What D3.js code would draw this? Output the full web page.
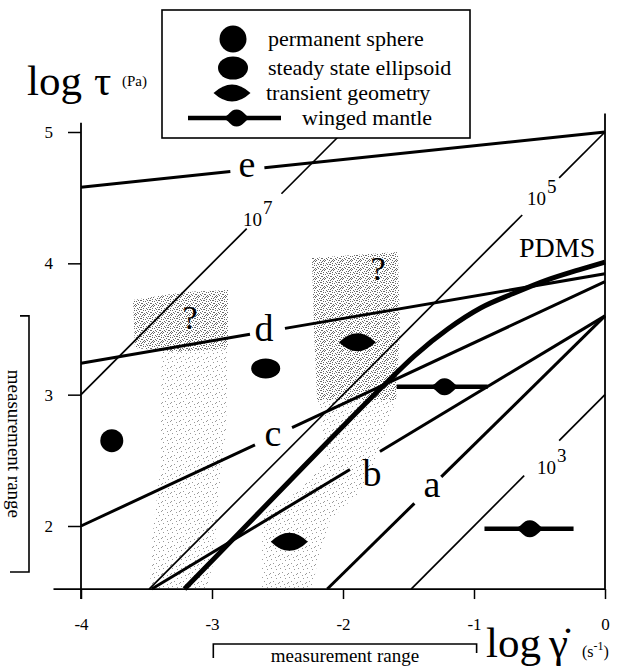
<!DOCTYPE html>
<html>
<head>
<meta charset="utf-8">
<script src="https://cdn.jsdelivr.net/npm/d3@7"></script>
<style>
  body { margin: 0; background: #fff; }
  svg { display: block; }
  svg text { font-family: "Liberation Serif", "Times New Roman", serif; }
</style>
</head>
<body>
<svg id="chart" width="619" height="670"></svg>
<script>
// axis ticks (log shear rate, log stress)
const xTicks = [-4, -3, -2, -1, 0];
const yTicks = [2, 3, 4, 5];
const yMin = 1.52;

// constant viscosity lines: log tau = log gamma + exponent
const viscosityExp = [7, 5, 3];
const viscosityGaps = [[-2.735, -2.47], [-0.632, -0.35], [-0.617, -0.35]];
const viscosityLabelAt = [[-2.687, 4.338], [-0.519, 4.497], [-0.443, 2.449]];

// lines a..e
const lineNames = ["a", "b", "c", "d", "e"];
const lineStart = [[-2.12, 1.52], [-3.46, 1.52], [-4, 2.0], [-4, 3.24], [-4, 4.58]];
const lineEnd = [[0, 3.6], [0, 3.6], [0, 3.86], [0, 3.92], [0, 5.0]];
const lineGaps = [[-1.455, -1.25], [-1.947, -1.718], [-2.672, -2.389], [-2.71, -2.443], [-2.86, -2.6]];
const lineLabelAt = [[-1.321, 2.29], [-1.779, 2.403], [-2.534, 2.678], [-2.603, 3.508], [-2.733, 4.726]];

// PDMS flow curve
const pdms = [[-3.21, 1.52], [-2.8, 1.94], [-2.4, 2.35], [-2.0, 2.76], [-1.7, 3.06], [-1.45, 3.3],
  [-1.2, 3.5], [-0.95, 3.66], [-0.7, 3.77], [-0.45, 3.87], [-0.2, 3.95], [0, 4.01]];

// observed drop shapes
const spheres = [[-3.765, 2.65]];
const ellipsoids = [[-2.59, 3.2]];
const transients = [[-1.89, 3.40], [-2.41, 1.88]];
const wingedCenter = [[-1.23, 3.06], [-0.579, 1.98]];
const wingedSpan = [[-1.59, -0.896], [-0.92, -0.24]];

// uncertain (shaded) zones and their "?" marks
const zoneDense = [
  [[-3.603, 3.721], [-3.206, 3.782], [-2.878, 3.797], [-2.878, 3.355], [-3.282, 3.325], [-3.588, 3.355]],
  [[-2.237, 4.041], [-1.58, 4.086], [-1.565, 3.492], [-1.595, 2.959], [-2.198, 2.959], [-2.221, 3.492]]
];
const zoneSparse = [
  [[-3.382, 3.355], [-2.878, 3.355], [-2.893, 2.731], [-2.954, 2.198], [-2.985, 1.741], [-3.038, 1.528],
   [-3.473, 1.528], [-3.458, 1.893], [-3.397, 2.426]],
  [[-2.198, 2.959], [-1.595, 2.959], [-1.718, 2.579], [-1.855, 2.274], [-2.099, 2.046], [-2.191, 1.741],
   [-2.237, 1.528], [-2.618, 1.528], [-2.618, 2.084], [-2.328, 2.274], [-2.122, 2.503]]
];
const questionAt = [[-3.168, 3.589], [-1.733, 3.964]];

const legendItems = ["permanent sphere", "steady state ellipsoid", "transient geometry", "winged mantle"];

const svg = d3.select("#chart");
const x = d3.scaleLinear().domain([-4, 0]).range([81, 605]);
const y = d3.scaleLinear().domain([2, 5]).range([526, 132]);
const line = d3.line().x(d => x(d[0])).y(d => y(d[1]));

function splitAtGap(p0, p1, gap) {
  const at = gx => [gx, p0[1] + (p1[1] - p0[1]) * (gx - p0[0]) / (p1[0] - p0[0])];
  return [[p0, at(gap[0])], [at(gap[1]), p1]];
}

function lensPath(w, h) {
  return `M${-w / 2},0 Q0,${-h} ${w / 2},0 Q0,${h} ${-w / 2},0Z`;
}
function bodyPath(w, h) {
  const a = w / 2, b = h / 2;
  return `M${-a},0 C${-a * 0.45},${-b * 0.25} ${-a * 0.45},${-b} ${a * 0.05},${-b}` +
    ` C${a * 0.5},${-b} ${a * 0.6},${-b * 0.35} ${a},0` +
    ` C${a * 0.6},${b * 0.35} ${a * 0.5},${b} ${a * 0.05},${b}` +
    ` C${-a * 0.45},${b} ${-a * 0.45},${b * 0.25} ${-a},0Z`;
}

// stipple patterns (hand placed dots so it looks less regular)
const defs = svg.append("defs");
const denseDots = [[0,0],[4,1],[7,0],[2,2],[6,3],[1,4],[8,4],[4,5],[3,7],[7,6],[0,7],[5,8],[2,6],[8,8],[6,1],[3,3],[5,3],[1,8],[8,2],[6,6]];
const sparseDots = [[1,1],[6,2],[3,5],[8,7],[0,6],[5,8]];
[["dense", denseDots, "#6a6a6a"], ["sparse", sparseDots, "#9a9a9a"]].forEach(([id, dots, col]) => {
  const p = defs.append("pattern").attr("id", id)
    .attr("width", 9).attr("height", 9).attr("patternUnits", "userSpaceOnUse");
  dots.forEach(d => p.append("rect").attr("x", d[0]).attr("y", d[1])
    .attr("width", 1).attr("height", 1).attr("fill", col));
});

const polyLine = d3.line().x(d => x(d[0])).y(d => y(d[1])).curve(d3.curveLinearClosed);
svg.append("g").selectAll("path").data(zoneSparse).enter().append("path")
  .attr("d", polyLine).attr("fill", "url(#sparse)");
svg.append("g").selectAll("path").data(zoneDense).enter().append("path")
  .attr("d", polyLine).attr("fill", "url(#dense)");

// viscosity lines
const gVisc = svg.append("g").attr("fill", "none").attr("stroke", "#000").attr("stroke-width", 1.7);
viscosityExp.forEach((e, i) => {
  const p0 = [Math.max(-4, yMin - e), Math.max(-4, yMin - e) + e];
  const p1 = [Math.min(0, 5 - e), Math.min(0, 5 - e) + e];
  splitAtGap(p0, p1, viscosityGaps[i]).forEach(seg => gVisc.append("path").attr("d", line(seg)));
  const lab = svg.append("text")
    .attr("x", x(viscosityLabelAt[i][0]) - 10)
    .attr("y", y(viscosityLabelAt[i][1]) + 7)
    .attr("font-size", 19);
  lab.append("tspan").text("10");
  lab.append("tspan").attr("dx", 1).attr("dy", -12).text(e);
});

// lines a..e
const gLines = svg.append("g").attr("fill", "none").attr("stroke", "#000").attr("stroke-width", 3);
lineNames.forEach((name, i) => {
  splitAtGap(lineStart[i], lineEnd[i], lineGaps[i]).forEach(seg => gLines.append("path").attr("d", line(seg)));
  svg.append("text")
    .attr("x", x(lineLabelAt[i][0]))
    .attr("y", y(lineLabelAt[i][1]))
    .attr("dy", /[bd]/.test(name) ? "0.34em" : "0.23em")
    .attr("text-anchor", "middle")
    .attr("font-size", 38)
    .text(name);
});

// PDMS curve
svg.append("path")
  .attr("d", d3.line().x(d => x(d[0])).y(d => y(d[1])).curve(d3.curveMonotoneX)(pdms))
  .attr("fill", "none").attr("stroke", "#000").attr("stroke-width", 5);
svg.append("text").attr("x", 519).attr("y", 257).attr("font-size", 28).text("PDMS");

// markers
svg.selectAll(".sphere").data(spheres).enter().append("circle")
  .attr("cx", d => x(d[0])).attr("cy", d => y(d[1])).attr("r", 11.5);
svg.selectAll(".ellipsoid").data(ellipsoids).enter().append("ellipse")
  .attr("cx", d => x(d[0])).attr("cy", d => y(d[1])).attr("rx", 14.5).attr("ry", 10);
svg.selectAll(".transient").data(transients).enter().append("path")
  .attr("transform", d => `translate(${x(d[0])},${y(d[1])})`)
  .attr("d", lensPath(37, 18));
wingedCenter.forEach((c, i) => {
  svg.append("line")
    .attr("x1", x(wingedSpan[i][0])).attr("x2", x(wingedSpan[i][1]))
    .attr("y1", y(c[1])).attr("y2", y(c[1]))
    .attr("stroke", "#000").attr("stroke-width", 4.5);
  svg.append("path")
    .attr("transform", `translate(${x(c[0])},${y(c[1])})`)
    .attr("d", bodyPath(30, 17));
});

// question marks
svg.selectAll(".q").data(questionAt).enter().append("text")
  .attr("x", d => x(d[0])).attr("y", d => y(d[1]))
  .attr("dy", "0.34em").attr("text-anchor", "middle").attr("font-size", 34).text("?");

// axes
const axisStyle = g => {
  g.select(".domain").remove();
  g.selectAll("line").attr("stroke", "#000").attr("stroke-width", 1.5);
  g.selectAll("text").attr("fill", "#000");
  g.attr("font-family", null).attr("font-size", 17);
};
svg.append("g")
  .attr("transform", `translate(0,${y(yMin)})`)
  .call(d3.axisBottom(x).tickValues(xTicks).tickSize(10).tickPadding(19).tickFormat(d => String(d)))
  .call(axisStyle);
svg.append("g")
  .attr("transform", `translate(${x(-4)},0)`)
  .call(d3.axisLeft(y).tickValues(yTicks).tickSize(13).tickPadding(15).tickFormat(d => String(d)))
  .call(axisStyle);

const gAxis = svg.append("g").attr("stroke", "#000").attr("stroke-width", 1.8);
gAxis.append("line").attr("x1", x(-4)).attr("x2", x(-4)).attr("y1", y(5.07)).attr("y2", y(yMin) + 10);
gAxis.append("line").attr("x1", x(0)).attr("x2", x(0)).attr("y1", y(5.14)).attr("y2", y(yMin));
gAxis.append("line").attr("x1", x(-4.21)).attr("x2", x(0)).attr("y1", y(yMin)).attr("y2", y(yMin));

// axis titles
const yTitle = svg.append("text").attr("x", 27).attr("y", 95).attr("font-size", 43);
yTitle.append("tspan").text("log");
yTitle.append("tspan").attr("x", 94).text("τ");
svg.append("text").attr("x", 122).attr("y", 86).attr("font-size", 15).text("(Pa)");

const xTitle = svg.append("text").attr("x", 486).attr("y", 657).attr("font-size", 43);
xTitle.append("tspan").text("log");
xTitle.append("tspan").attr("x", 549).text("γ\u0307");
const xUnit = svg.append("text").attr("x", 582).attr("y", 657).attr("font-size", 16);
xUnit.append("tspan").text("(s");
xUnit.append("tspan").attr("dy", -7).attr("font-size", 12).text("-1");
xUnit.append("tspan").attr("dy", 7).text(")");

// measurement range brackets
const gBr = svg.append("g").attr("fill", "none").attr("stroke", "#000").attr("stroke-width", 1.6);
gBr.append("path").attr("d", `M${x(-2.99)},658 V644 H${x(-0.98)} V653`);
svg.append("text").attr("x", (x(-2.99) + x(-0.98)) / 2).attr("y", 662)
  .attr("text-anchor", "middle").attr("font-size", 19).text("measurement range");
gBr.append("path").attr("d", `M20,${y(3.6)} H29 V${y(1.65)} H10`);
svg.append("text")
  .attr("transform", `translate(8,${(y(3.6) + y(1.65)) / 2}) rotate(90)`)
  .attr("text-anchor", "middle").attr("font-size", 19).text("measurement range");

// legend
const legend = svg.append("g");
legend.append("rect").attr("x", 162).attr("y", 10).attr("width", 308).attr("height", 128)
  .attr("fill", "#fff").attr("stroke", "#000").attr("stroke-width", 1.6);
const rowY = [39, 68, 93, 118];
const textX = [268, 268, 266, 302];
legend.append("circle").attr("cx", 233).attr("cy", rowY[0]).attr("r", 13.5);
legend.append("ellipse").attr("cx", 233).attr("cy", rowY[1]).attr("rx", 15).attr("ry", 11.5);
legend.append("path").attr("transform", `translate(232,${rowY[2]})`).attr("d", lensPath(37, 17));
legend.append("line").attr("x1", 188).attr("x2", 281).attr("y1", rowY[3]).attr("y2", rowY[3])
  .attr("stroke", "#000").attr("stroke-width", 4.5);
legend.append("path").attr("transform", `translate(236,${rowY[3]})`).attr("d", bodyPath(28, 17));
legend.selectAll(".lt").data(legendItems).enter().append("text")
  .attr("x", (d, i) => textX[i]).attr("y", (d, i) => rowY[i]).attr("dy", "0.3em")
  .attr("font-size", 22).text(d => d);
</script>
</body>
</html>
